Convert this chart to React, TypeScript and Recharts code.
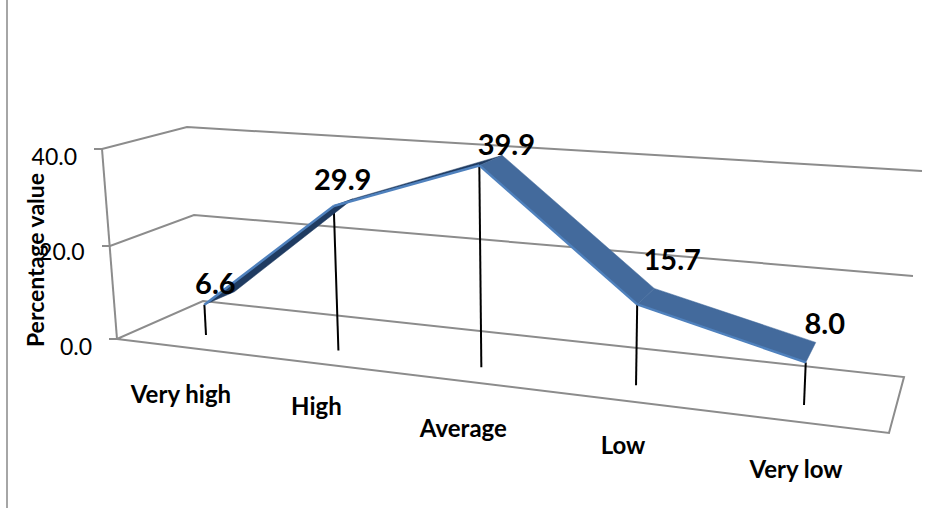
import React from 'react';
import { ComposedChart, Bar, Line, XAxis, YAxis, LabelList } from 'recharts';

const categories = ['Very high', 'High', 'Average', 'Low', 'Very low'];
const percentages = [6.6, 29.9, 39.9, 15.7, 8.0];
const yTicks = [0, 20, 40];

const data = categories.map((name, i) => ({ name, value: percentages[i] }));

const FONT = 'Lato, "Open Sans", sans-serif';
const WIDTH = 930;
const HEIGHT = 508;

// plot rectangle that recharts lays out, before it gets projected
const PLOT = { left: 100, right: 900, top: 20, bottom: 420 };
const BAND = (PLOT.right - PLOT.left) / categories.length;
const FIRST_X = PLOT.left + BAND / 2;
const LAST_X = PLOT.right - BAND / 2;

// the 3D look: where the value plane corners land in the picture
const QUAD = [
  [206, 335], // first category, value 0
  [804, 405], // last category, value 0
  [813, 186], // last category, value 40
  [196, 147], // first category, value 40
];

const makeProjection = () => {
  const [[x0, y0], [x1, y1], [x2, y2], [x3, y3]] = QUAD;
  const dx1 = x1 - x2, dx2 = x3 - x2, sx = x0 - x1 + x2 - x3;
  const dy1 = y1 - y2, dy2 = y3 - y2, sy = y0 - y1 + y2 - y3;
  const den = dx1 * dy2 - dx2 * dy1;
  const g = (sx * dy2 - dx2 * sy) / den;
  const h = (dx1 * sy - sx * dy1) / den;
  const a = x1 - x0 + g * x1, b = x3 - x0 + h * x3;
  const d = y1 - y0 + g * y1, e = y3 - y0 + h * y3;
  return (cx: number, cy: number) => {
    const u = (cx - FIRST_X) / (LAST_X - FIRST_X);
    const v = (PLOT.bottom - cy) / (PLOT.bottom - PLOT.top);
    const w = g * u + h * v + 1;
    return [(a * u + b * v + x0) / w, (d * u + e * v + y0) / w];
  };
};
const project = makeProjection();

// ribbon depth at each point, and label / tick nudges (pixels in the picture)
const RIBBON_DEPTH = [[30, -13], [19, -7], [23, -10], [17, -16], [10, -20]];
const LABEL_NUDGE = [[11, -22], [9, -27], [27, -22], [35, -46], [19, -40]];
const TICK_NUDGE = [[-25, 58], [-22, 55], [-18, 60], [-13, 59], [-8, 63]];

// walls and floor of the 3D box
const FRAME = [
  '94,149 102,149 187,127 922,171',
  '102,246 110,246 194,215 913,276',
  '109,339 117,339 203,301 904,377 889,433 117,339',
  '102,149 117,339',
];

const RibbonSegment = (props: any) => {
  const { cx, cy, index, points } = props;
  const next = points?.[index + 1];
  if (!next) return <g key={index} />;
  const [ax, ay] = project(cx, cy);
  const [bx, by] = project(next.x, next.y);
  const [adx, ady] = RIBBON_DEPTH[index];
  const [bdx, bdy] = RIBBON_DEPTH[index + 1];
  const rising = next.y < cy;
  return (
    <g key={index}>
      <polygon
        points={`${ax},${ay} ${bx},${by} ${bx + bdx},${by + bdy} ${ax + adx},${ay + ady}`}
        fill={rising ? '#1f3b61' : '#436a9c'}
        stroke={rising ? '#1f3b61' : '#436a9c'}
        strokeWidth={0.5}
      />
      <line x1={ax} y1={ay} x2={bx} y2={by} stroke="#4f81bd" strokeWidth={2.5} />
    </g>
  );
};

const DropLine = (props: any) => {
  const { x, y, width, height } = props;
  const mid = x + width / 2;
  const [tx, ty] = project(mid, y);
  const [fx, fy] = project(mid, y + height);
  return <line x1={tx} y1={ty} x2={fx} y2={fy} stroke="#000" strokeWidth={2} />;
};

const PointLabel = (props: any) => {
  const { x, y, index, value } = props;
  const [px, py] = project(x, y);
  const [nx, ny] = LABEL_NUDGE[index];
  return (
    <text
      x={px + nx}
      y={py + ny}
      textAnchor="middle"
      dominantBaseline="central"
      fontFamily={FONT}
      fontWeight={700}
      fontSize={29}
      fill="#000"
    >
      {Number(value).toFixed(1)}
    </text>
  );
};

const CategoryTick = (props: any) => {
  const { x, index, payload } = props;
  const [fx, fy] = project(x, PLOT.bottom);
  const [nx, ny] = TICK_NUDGE[index];
  return (
    <text
      x={fx + nx}
      y={fy + ny}
      textAnchor="middle"
      dominantBaseline="central"
      fontFamily={FONT}
      fontWeight={700}
      fontSize={24}
      fill="#000"
    >
      {payload.value}
    </text>
  );
};

const ValueTick = (props: any) => {
  const { y, payload } = props;
  const v = (PLOT.bottom - y) / (PLOT.bottom - PLOT.top);
  return (
    <text
      x={92 - 15 * v}
      y={346 - 190 * v}
      textAnchor="end"
      dominantBaseline="central"
      fontFamily={FONT}
      fontSize={23}
      fill="#000"
    >
      {Number(payload.value).toFixed(1)}
    </text>
  );
};

const AxisTitle = () => (
  <text
    transform="translate(35,260) rotate(-90)"
    textAnchor="middle"
    dominantBaseline="central"
    fontFamily={FONT}
    fontWeight={700}
    fontSize={23}
    fill="#000"
  >
    Percentage value
  </text>
);

export default function App() {
  return (
    <div style={{ position: 'absolute', left: 0, top: 0, width: WIDTH, height: HEIGHT, background: '#fff' }}>
      <svg width={WIDTH} height={HEIGHT} style={{ position: 'absolute', left: 0, top: 0 }}>
        <line x1={7} y1={0} x2={7} y2={508} stroke="#a6a6a6" strokeWidth={2} />
        {FRAME.map(pts => (
          <polyline key={pts} points={pts} fill="none" stroke="#8c8c8c" strokeWidth={2} />
        ))}
      </svg>
      <div style={{ position: 'absolute', left: 0, top: 0 }}>
        <ComposedChart
          width={WIDTH}
          height={HEIGHT}
          data={data}
          margin={{ top: PLOT.top, right: WIDTH - PLOT.right, left: 0, bottom: 0 }}
        >
          <XAxis
            dataKey="name"
            height={HEIGHT - PLOT.bottom}
            axisLine={false}
            tickLine={false}
            interval={0}
            tick={<CategoryTick />}
          />
          <YAxis
            width={PLOT.left}
            domain={[0, 40]}
            ticks={yTicks}
            axisLine={false}
            tickLine={false}
            tick={<ValueTick />}
            label={{ value: 'Percentage value', content: <AxisTitle /> }}
          />
          <Bar dataKey="value" barSize={2} isAnimationActive={false} shape={<DropLine />} />
          <Line
            dataKey="value"
            stroke="none"
            dot={RibbonSegment}
            activeDot={false}
            isAnimationActive={false}
          >
            <LabelList dataKey="value" content={<PointLabel />} />
          </Line>
        </ComposedChart>
      </div>
    </div>
  );
}
